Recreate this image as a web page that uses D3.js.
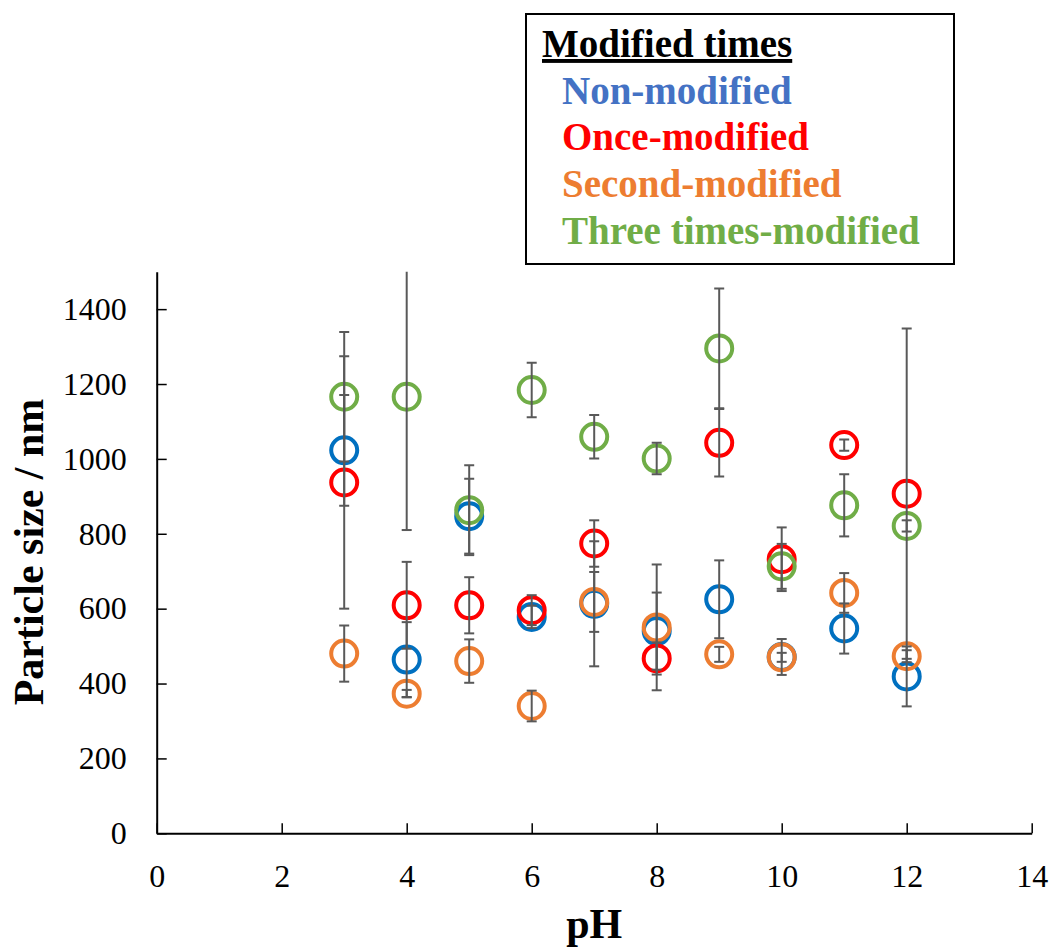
<!DOCTYPE html>
<html>
<head>
    <meta charset="utf-8">
    <script src="https://d3js.org/d3.v7.min.js"></script>
    <title>Particle size vs pH</title>
    <style>
        body { margin: 0; background: #fff; }
        svg text { font-family: "Liberation Serif", "Times New Roman", serif; }
    </style>
</head>
<body>
<svg id="chart"></svg>
<script>
    // pH values and particle size (nm) with error bars
    var phValues = [3, 4, 5, 6, 7, 8, 9, 10, 11, 12];

    var nonModified = [1023, 464, 847, 578, 613, 540, 625, 471, 547, 419];
    var nonModifiedErr = [148, 100, 100, 30, 167, 103, 104, 48, 67, 80];

    var onceModified = [937, 609, 609, 596, 774, 467, 1043, 732, 1037, 907];
    var onceModifiedErr = [337, 116, 75, 40, 62, 43, 90, 85, 15, 441];

    var secondModified = [480, 373, 460, 340, 618, 550, 478, 470, 642, 473];
    var secondModifiedErr = [75, 10, 58, 41, 80, 168, 20, 12, 53, 16];

    var threeModified = [1166, 1166, 863, 1184, 1059, 1001, 1295, 713, 876, 821];
    var threeModifiedErr = [173, 356, 120, 73, 58, 42, 160, 60, 83, 15];

    var xTicks = [0, 2, 4, 6, 8, 10, 12, 14];
    var yTicks = [0, 200, 400, 600, 800, 1000, 1200, 1400];

    var legendTitle = "Modified times";
    var seriesNames = ["Non-modified", "Once-modified", "Second-modified", "Three times-modified"];
    var markerColors = ["#0070c0", "#ff0000", "#ed7d31", "#70ad47"];
    var labelColors = ["#4472c4", "#ff0000", "#ed7d31", "#70ad47"];

    var series = [
        { values: nonModified, errors: nonModifiedErr },
        { values: onceModified, errors: onceModifiedErr },
        { values: secondModified, errors: secondModifiedErr },
        { values: threeModified, errors: threeModifiedErr }
    ];

    (function () {
        const width = 1058,
            height = 952,
            left = 156.7,
            right = 1031.7,
            top = 271.7,
            bottom = 833.3;

        var svg = d3.select("#chart")
            .attr("width", width)
            .attr("height", height);

        var x = d3.scaleLinear().domain([0, 14]).range([left, right]);
        var y = d3.scaleLinear().domain([0, 1500]).range([bottom, top]);

        svg.append("clipPath").attr("id", "plot-clip")
            .append("rect")
            .attr("x", left).attr("y", top)
            .attr("width", right - left).attr("height", bottom - top);

        // axes
        var xAxis = svg.append("g")
            .attr("transform", "translate(0," + bottom + ")")
            .call(d3.axisBottom(x).tickValues(xTicks).tickFormat(d3.format("d"))
                .tickSize(-10).tickPadding(31).tickSizeOuter(0));
        var yAxis = svg.append("g")
            .attr("transform", "translate(" + left + ",0)")
            .call(d3.axisLeft(y).tickValues(yTicks).tickFormat(d3.format("d"))
                .tickSize(-10).tickPadding(30).tickSizeOuter(0));

        [xAxis, yAxis].forEach(function (g) {
            g.select(".domain").attr("stroke", "#000").attr("stroke-width", 2);
            g.selectAll(".tick line").attr("stroke", "#000").attr("stroke-width", 1.5);
            g.selectAll(".tick text")
                .attr("fill", "#000")
                .style("font-size", "32px");
        });

        // axis titles
        svg.append("text")
            .attr("transform", "rotate(-90)")
            .attr("x", -552)
            .attr("y", 43)
            .attr("text-anchor", "middle")
            .style("font-size", "42px")
            .style("font-weight", "bold")
            .text("Particle size / nm");

        svg.append("text")
            .attr("x", (left + right) / 2)
            .attr("y", 938)
            .attr("text-anchor", "middle")
            .style("font-size", "42px")
            .style("font-weight", "bold")
            .text("pH");

        var plot = svg.append("g").attr("clip-path", "url(#plot-clip)");

        // markers first, error bars on top (as in the original)
        series.forEach(function (s, si) {
            plot.append("g").selectAll("circle")
                .data(s.values)
                .enter()
                .append("circle")
                .attr("cx", function (d, i) { return x(phValues[i]); })
                .attr("cy", function (d) { return y(d); })
                .attr("r", 13)
                .attr("fill", "none")
                .attr("stroke", markerColors[si])
                .attr("stroke-width", 4);
        });

        series.forEach(function (s) {
            var bars = plot.append("g")
                .attr("stroke", "#595959")
                .attr("stroke-width", 2)
                .selectAll("g")
                .data(s.values)
                .enter()
                .append("g");
            bars.append("line")
                .attr("x1", function (d, i) { return x(phValues[i]); })
                .attr("x2", function (d, i) { return x(phValues[i]); })
                .attr("y1", function (d, i) { return y(d + s.errors[i]); })
                .attr("y2", function (d, i) { return y(d - s.errors[i]); });
            [1, -1].forEach(function (sign) {
                bars.append("line")
                    .attr("x1", function (d, i) { return x(phValues[i]) - 5; })
                    .attr("x2", function (d, i) { return x(phValues[i]) + 5; })
                    .attr("y1", function (d, i) { return y(d + sign * s.errors[i]); })
                    .attr("y2", function (d, i) { return y(d + sign * s.errors[i]); });
            });
        });

        // legend box
        var legend = svg.append("g");
        legend.append("rect")
            .attr("x", 526).attr("y", 14)
            .attr("width", 428).attr("height", 250)
            .attr("fill", "#fff")
            .attr("stroke", "#000")
            .attr("stroke-width", 2);

        legend.append("text")
            .attr("x", 542)
            .attr("y", 57)
            .style("font-size", "39px")
            .style("font-weight", "bold")
            .style("text-decoration", "underline")
            .text(legendTitle);

        legend.selectAll(".entry")
            .data(seriesNames)
            .enter()
            .append("text")
            .attr("class", "entry")
            .attr("x", 562)
            .attr("y", function (d, i) { return 103.5 + i * 46.7; })
            .attr("fill", function (d, i) { return labelColors[i]; })
            .style("font-size", "39px")
            .style("font-weight", "bold")
            .text(function (d) { return d; });
    })();
</script>
</body>
</html>
